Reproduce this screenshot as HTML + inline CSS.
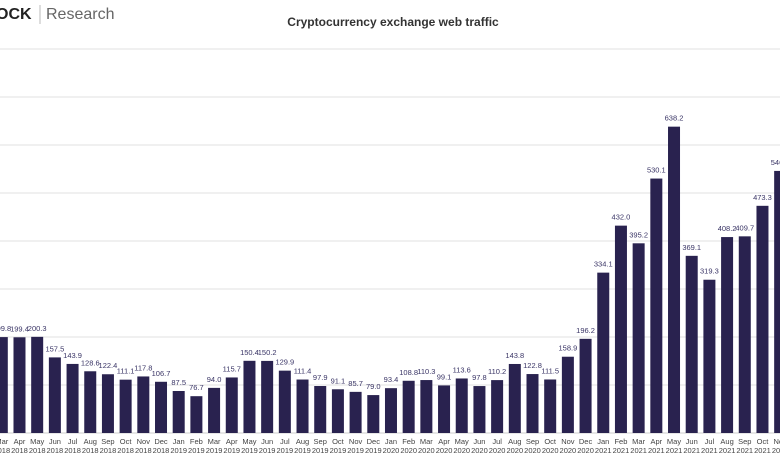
<!DOCTYPE html>
<html><head><meta charset="utf-8"><style>
body{margin:0;background:#fff;width:780px;height:470px;overflow:hidden;font-family:"Liberation Sans",sans-serif}
</style></head><body>
<svg id="c" width="780" height="470" xmlns="http://www.w3.org/2000/svg">
<text x="-4" y="19" font-size="16" font-weight="bold" fill="#222">OCK</text>
<line x1="40" y1="5" x2="40" y2="24" stroke="#bbb"/>
<text x="46" y="19" font-size="16" fill="#666">Research</text>
<text x="393" y="26" font-size="12" font-weight="bold" fill="#333" text-anchor="middle">Cryptocurrency exchange web traffic</text>
<g id="grid"></g><g id="bars"></g><g id="labels"></g><g id="xt"></g>
</svg>
<script>
const months=["Mar","Apr","May","Jun","Jul","Aug","Sep","Oct","Nov","Dec","Jan","Feb","Mar","Apr","May","Jun","Jul","Aug","Sep","Oct","Nov","Dec","Jan","Feb","Mar","Apr","May","Jun","Jul","Aug","Sep","Oct","Nov","Dec","Jan","Feb","Mar","Apr","May","Jun","Jul","Aug","Sep","Oct","Nov"];
const years=["2018","2018","2018","2018","2018","2018","2018","2018","2018","2018","2019","2019","2019","2019","2019","2019","2019","2019","2019","2019","2019","2019","2020","2020","2020","2020","2020","2020","2020","2020","2020","2020","2020","2020","2021","2021","2021","2021","2021","2021","2021","2021","2021","2021","2021"];
const values=[199.8,199.4,200.3,157.5,143.9,128.6,122.4,111.1,117.8,106.7,87.5,76.7,94.0,115.7,150.4,150.2,129.9,111.4,97.9,91.1,85.7,79.0,93.4,108.8,110.3,99.1,113.6,97.8,110.2,143.8,122.8,111.5,158.9,196.2,334.1,432.0,395.2,530.1,638.2,369.1,319.3,408.2,409.7,473.3,546.0];
const gridVals=[100,200,300,400,500,600,700,800];
const NS="http://www.w3.org/2000/svg";
const base=433,k=0.48,x0=1.8,pitch=17.69,bw=12;
const y=v=>base-v*k, x=i=>x0+i*pitch;
function mk(t,a,p){const e=document.createElementNS(NS,t);for(const n in a)e.setAttribute(n,a[n]);document.getElementById(p).appendChild(e);return e;}
gridVals.forEach(g=>{const l=mk('line',{x1:0,x2:780,y1:y(g),y2:y(g),stroke:'#e6e6e6','stroke-width':1.2},'grid');

});
values.forEach((v,i)=>{
const r=mk('rect',{x:x(i)-bw/2,y:y(v),width:bw,height:v*k,fill:'#29224f'},'bars');


const t=mk('text',{x:x(i),y:y(v)-6,'font-size':7.5,fill:'#3a3566','text-anchor':'middle'},'labels');
t.textContent=v.toFixed(1);


const m=mk('text',{x:x(i),y:444,'font-size':7.5,fill:'#444','text-anchor':'middle'},'xt');
m.textContent=months[i];


const yr=mk('text',{x:x(i),y:453,'font-size':7.5,fill:'#444','text-anchor':'middle'},'xt');
yr.textContent=years[i];


});
const ax=mk('line',{x1:0,x2:780,y1:base,y2:base,stroke:'#ccc'},'grid');


</script>
</body></html>
